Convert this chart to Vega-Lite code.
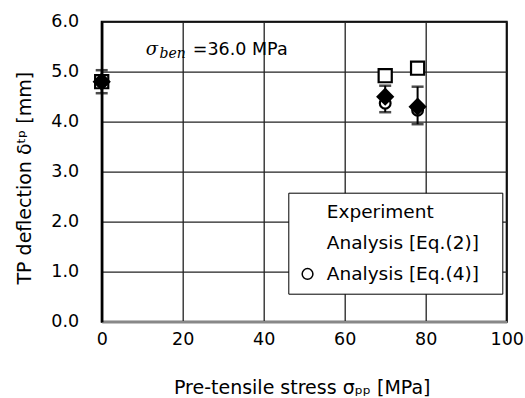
{
  "$schema": "https://vega.github.io/schema/vega-lite/v6.json",
  "width": 405,
  "height": 300,
  "autosize": {"type": "none"},
  "padding": {"left": 101.7, "top": 21.7, "right": 18.3, "bottom": 76.3},
  "config": {
    "font": "DejaVu Sans",
    "view": {"stroke": "black", "strokeWidth": 2},
    "axis": {"labelFont": "DejaVu Sans", "titleFont": "DejaVu Sans", "labelColor": "black", "titleColor": "black", "titleFontWeight": "normal"}
  },
  "datasets": {
    "points": [
      {"stress": 0, "deflection": 4.80, "series": "Analysis [Eq.(2)]"},
      {"stress": 70, "deflection": 4.92, "series": "Analysis [Eq.(2)]"},
      {"stress": 78, "deflection": 5.07, "series": "Analysis [Eq.(2)]"},
      {"stress": 0, "deflection": 4.80, "series": "Analysis [Eq.(4)]"},
      {"stress": 70, "deflection": 4.37, "series": "Analysis [Eq.(4)]"},
      {"stress": 78, "deflection": 4.23, "series": "Analysis [Eq.(4)]"},
      {"stress": 0, "deflection": 4.80, "series": "Experiment"},
      {"stress": 70, "deflection": 4.50, "series": "Experiment"},
      {"stress": 78, "deflection": 4.30, "series": "Experiment"}
    ],
    "errors": [
      {"stress": 0, "low": 4.57, "high": 5.03},
      {"stress": 70, "low": 4.19, "high": 4.72},
      {"stress": 78, "low": 3.95, "high": 4.70}
    ],
    "note": [
      {"stress": 10.9, "deflection": 5.33, "sym": "σ", "sub": "ben", "rest": "=36.0 MPa", "subx": 14.3, "suby": 5.27, "restx": 22.5}
    ]
  },
  "layer": [
    {
      "data": {"name": "errors"},
      "mark": {"type": "rule", "color": "black", "strokeWidth": 2},
      "encoding": {
        "x": {
          "field": "stress", "type": "quantitative",
          "scale": {"domain": [0, 100], "nice": false},
          "axis": {
            "values": [0, 20, 40, 60, 80, 100],
            "title": "Pre-tensile stress σₚₚ [MPa]",
            "titleFontSize": 19,
            "titleX": 200,
            "titleY": 66,
            "titleBaseline": "middle",
            "labelFontSize": 17.5,
            "labelPadding": 9,
            "labelFlush": false,
            "ticks": false,
            "domainColor": "#888888",
            "domainWidth": 2.5,
            "grid": true,
            "gridColor": "#222222",
            "gridWidth": 1.3,
            "gridOpacity": 1
          }
        },
        "y": {
          "field": "low", "type": "quantitative",
          "scale": {"domain": [0, 6], "nice": false},
          "axis": {
            "values": [0, 1, 2, 3, 4, 5, 6],
            "format": ".1f",
            "title": "TP deflection δᵗᵖ [mm]",
            "titleFontSize": 19,
            "titleX": -77,
            "titleY": 156,
            "titleAngle": -90,
            "titleAlign": "center",
            "titleBaseline": "middle",
            "labelFontSize": 17.5,
            "labelPadding": 23,
            "labelFlush": false,
            "ticks": false,
            "domainColor": "black",
            "domainWidth": 2.5,
            "grid": true,
            "gridColor": "#222222",
            "gridWidth": 1.3,
            "gridOpacity": 1
          }
        },
        "y2": {"field": "high"}
      }
    },
    {
      "data": {"name": "errors"},
      "mark": {"type": "tick", "orient": "horizontal", "color": "black", "size": 12, "thickness": 2.5},
      "encoding": {
        "x": {"field": "stress", "type": "quantitative"},
        "y": {"field": "low", "type": "quantitative"}
      }
    },
    {
      "data": {"name": "errors"},
      "mark": {"type": "tick", "orient": "horizontal", "color": "black", "size": 12, "thickness": 2.5},
      "encoding": {
        "x": {"field": "stress", "type": "quantitative"},
        "y": {"field": "high", "type": "quantitative"}
      }
    },
    {
      "data": {"name": "points"},
      "mark": {"type": "point", "filled": false, "stroke": "black", "strokeWidth": 2.2, "opacity": 1},
      "encoding": {
        "x": {"field": "stress", "type": "quantitative"},
        "y": {"field": "deflection", "type": "quantitative"},
        "shape": {
          "field": "series", "type": "nominal",
          "scale": {"domain": ["Experiment", "Analysis [Eq.(2)]", "Analysis [Eq.(4)]"], "range": ["diamond", "square", "circle"]},
          "legend": {
            "title": "\u00a0",
            "titleOrient": "right",
            "titlePadding": 13,
            "titleFontSize": 12,
            "orient": "none",
            "legendX": 186.6,
            "legendY": 171,
            "padding": 10,
            "strokeColor": "black",
            "fillColor": "white",
            "labelFont": "DejaVu Sans",
            "labelFontSize": 18.5,
            "labelColor": "black",
            "labelOffset": 10,
            "rowPadding": 12,
            "symbolSize": 150,
            "symbolStrokeColor": "black",
            "symbolStrokeWidth": 1.5,
            "symbolFillColor": "white",
            "symbolOpacity": 1,
            "encode": {
              "symbols": {"update": {
                "opacity": {"value": 1},
                "strokeOpacity": {"signal": "datum.index === 2 ? 1 : 0"},
                "fillOpacity": {"signal": "datum.index === 2 ? 1 : 0"},
                "fill": {"value": "white"},
                "stroke": {"value": "black"},
                "strokeWidth": {"value": 1.5},
                "shape": {"value": "circle"},
                "size": {"value": 160}
              }}
            }
          }
        },
        "fill": {
          "field": "series", "type": "nominal",
          "scale": {"domain": ["Experiment", "Analysis [Eq.(2)]", "Analysis [Eq.(4)]"], "range": ["black", "white", "white"]}
        },
        "size": {
          "field": "series", "type": "nominal",
          "scale": {"domain": ["Experiment", "Analysis [Eq.(2)]", "Analysis [Eq.(4)]"], "range": [230, 115, 135]}
        }
      }
    },
    {
      "data": {"name": "note"},
      "mark": {"type": "text", "font": "DejaVu Serif", "fontStyle": "italic", "fontSize": 18, "align": "left", "baseline": "alphabetic", "color": "black"},
      "encoding": {
        "x": {"field": "stress", "type": "quantitative"},
        "y": {"field": "deflection", "type": "quantitative"},
        "text": {"field": "sym"}
      }
    },
    {
      "data": {"name": "note"},
      "mark": {"type": "text", "font": "DejaVu Serif", "fontStyle": "italic", "fontSize": 14, "align": "left", "baseline": "alphabetic", "color": "black"},
      "encoding": {
        "x": {"field": "subx", "type": "quantitative"},
        "y": {"field": "suby", "type": "quantitative"},
        "text": {"field": "sub"}
      }
    },
    {
      "data": {"name": "note"},
      "mark": {"type": "text", "font": "DejaVu Sans", "fontSize": 17.5, "align": "left", "baseline": "alphabetic", "color": "black"},
      "encoding": {
        "x": {"field": "restx", "type": "quantitative"},
        "y": {"field": "deflection", "type": "quantitative"},
        "text": {"field": "rest"}
      }
    }
  ]
}
